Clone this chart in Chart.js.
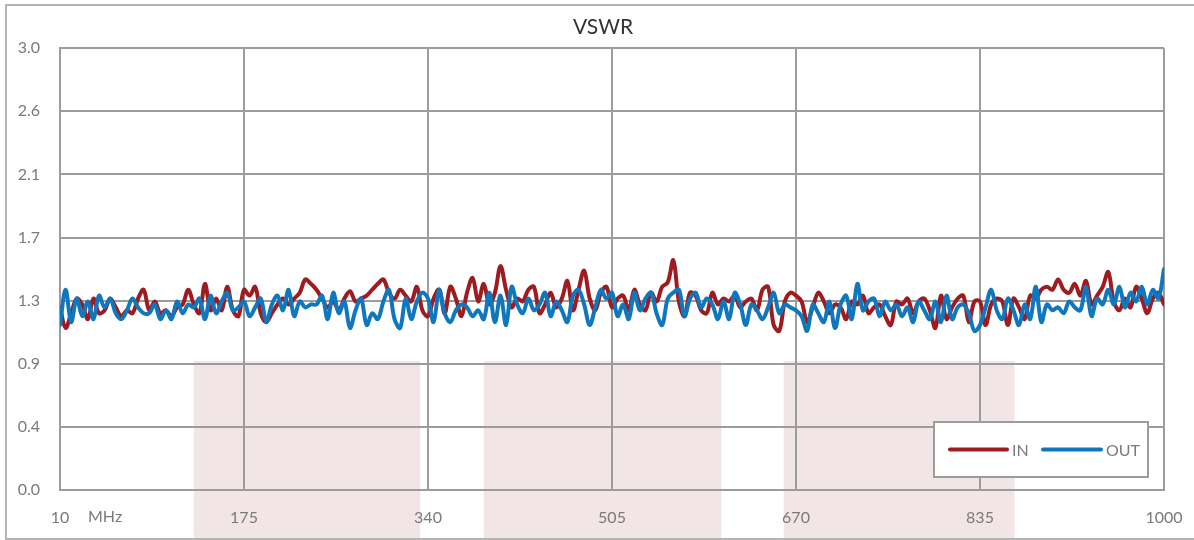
<!DOCTYPE html>
<html>
<head>
<meta charset="utf-8">
<title>VSWR</title>
<script src="https://cdn.jsdelivr.net/npm/chart.js@4.4.0/dist/chart.umd.min.js"></script>
<style>
  body { margin: 0; background: #ffffff; }
  #wrap { width: 1194px; height: 540px; position: relative; }
</style>
</head>
<body>
<div id="wrap"><canvas id="vswrChart" width="1194" height="540"></canvas></div>
<script>
//Data
const startFreq = 10; //first sample, MHz
const stepFreq = 5; //sample spacing, MHz
const xTicks = [10, 175, 340, 505, 670, 835, 1000]; //x tick labels (MHz)
const yTickLabels = ['0.0', '0.4', '0.9', '1.3', '1.7', '2.1', '2.6', '3.0']; //y tick labels
const seriesNames = ['IN', 'OUT']; //legend names
const bands = [[130, 333], [390, 603], [659, 866]]; //shaded frequency bands, MHz

const inValues = [ //VSWR of input port
    1.24,1.10,1.20,1.30,1.26,1.16,1.30,1.20,1.22,1.30, 1.24,1.18,1.22,1.20,1.30,1.36,1.22,1.28,1.20,1.22,
    1.18,1.24,1.26,1.36,1.26,1.20,1.40,1.22,1.30,1.22, 1.38,1.22,1.18,
    1.36,1.32,1.38,1.20,1.14,1.20,1.26,1.30,1.26,1.30, 1.34,1.43,1.40,1.36,1.30,1.24,1.28,1.22,1.30,1.35,
    1.28,1.30,1.32,1.36,1.40,1.43,1.34,1.30,1.36,1.32, 1.28,1.38,1.22,
    1.18,1.30,1.36,1.20,1.38,1.30,1.18,1.34,1.44,1.28, 1.40,1.26,1.34,1.52,1.36,1.24,1.30,1.28,1.36,1.38,
    1.20,1.26,1.34,1.24,1.30,1.42,1.22,1.36,1.49,1.30, 1.22,1.34,1.38,
    1.24,1.30,1.32,1.22,1.36,1.26,1.22,1.34,1.28,1.38, 1.41,1.56,1.28,1.18,1.34,1.32,1.22,1.20,1.34,1.26,
    1.30,1.28,1.32,1.24,1.28,1.30,1.22,1.36,1.38,1.12, 1.08,1.28,1.34,
    1.32,1.28,1.14,1.24,1.34,1.28,1.20,1.26,1.24,1.16, 1.28,1.26,1.32,1.20,1.24,1.26,1.18,1.12,1.28,1.26,
    1.30,1.20,1.28,1.30,1.22,1.10,1.32,1.16,1.24,1.30, 1.32,1.14,1.28,
    1.28,1.12,1.26,1.30,1.28,1.12,1.30,1.24,1.16,1.32, 1.30,1.36,1.38,1.36,1.43,1.36,1.34,1.40,1.32,1.42,
    1.26,1.32,1.38,1.48,1.28,1.22,1.30,1.24,1.38,1.30, 1.20,1.30,1.34,1.26
];

const outValues = [ //VSWR of output port
    1.12,1.36,1.14,1.30,1.18,1.28,1.16,1.32,1.24,1.30, 1.20,1.16,1.22,1.30,1.24,1.20,1.20,1.26,1.16,1.22,
    1.16,1.28,1.20,1.26,1.24,1.30,1.16,1.32,1.20,1.28, 1.34,1.22,1.24,
    1.28,1.18,1.24,1.30,1.14,1.26,1.32,1.22,1.36,1.18, 1.28,1.24,1.26,1.26,1.32,1.16,1.34,1.20,1.28,1.10,
    1.22,1.30,1.12,1.20,1.16,1.28,1.36,1.16,1.10,1.30, 1.16,1.28,1.34,
    1.30,1.14,1.36,1.20,1.14,1.22,1.26,1.24,1.18,1.22, 1.16,1.34,1.14,1.32,1.12,1.38,1.26,1.20,1.30,1.22,
    1.26,1.34,1.18,1.28,1.22,1.14,1.32,1.36,1.26,1.12, 1.24,1.36,1.30,
    1.34,1.18,1.26,1.16,1.34,1.22,1.30,1.34,1.20,1.12, 1.30,1.34,1.36,1.18,1.30,1.34,1.24,1.30,1.26,1.16,
    1.28,1.16,1.34,1.26,1.12,1.26,1.22,1.16,1.24,1.34, 1.20,1.26,1.24,
    1.22,1.18,1.08,1.26,1.20,1.14,1.28,1.10,1.26,1.32, 1.16,1.40,1.22,1.28,1.30,1.18,1.28,1.22,1.26,1.18,
    1.24,1.14,1.28,1.22,1.16,1.28,1.14,1.32,1.16,1.24, 1.26,1.20,1.08,
    1.12,1.24,1.36,1.22,1.16,1.30,1.22,1.12,1.26,1.16, 1.38,1.14,1.26,1.22,1.24,1.20,1.28,1.24,1.22,1.38,
    1.18,1.30,1.26,1.36,1.26,1.38,1.24,1.34,1.28,1.38, 1.26,1.36,1.30,1.50
];

const freqs = inValues.map((v, i) => startFreq + i * stepFreq); //sample frequencies

//Styles
const gridColor = '#9c9c9c';
const labelColor = '#7a7a7a';
const fontFamily = 'Lato, "Open Sans", sans-serif';
const inColor = '#9e1b20';
const outColor = '#0f77bd';

const backgroundPlugin = { //frame and shaded bands, drawn under the grid
    id: 'background',
    beforeDraw(chart) {
        const ctx = chart.ctx;
        const xs = chart.scales.x;
        const ys = chart.scales.y;
        ctx.save();
        ctx.fillStyle = '#ffffff';
        ctx.fillRect(0, 0, chart.width, chart.height);
        ctx.fillStyle = '#f2e5e6'; //pink bands
        const top = ys.getPixelForValue(0.875);
        bands.forEach(b => {
            const x1 = xs.getPixelForValue(b[0]);
            const x2 = xs.getPixelForValue(b[1]);
            ctx.fillRect(x1, top, x2 - x1, chart.height - top);
        });
        ctx.strokeStyle = '#b4b4b4'; //outer frame
        ctx.lineWidth = 2;
        ctx.strokeRect(6, 5, chart.width + 10, chart.height - 6);
        ctx.restore();
    }
};

const extrasPlugin = { //unit label and legend box
    id: 'extras',
    afterDraw(chart) {
        const ctx = chart.ctx;
        const area = chart.chartArea;
        ctx.save();
        ctx.font = '16px ' + fontFamily;
        ctx.fillStyle = labelColor;
        ctx.textBaseline = 'middle';
        ctx.textAlign = 'left';
        ctx.fillText('MHz', 88, area.bottom + 27); //unit next to first tick

        //legend
        const bx = 934, by = 422, bw = 214, bh = 55;
        ctx.fillStyle = '#ffffff';
        ctx.fillRect(bx, by, bw, bh);
        ctx.strokeStyle = gridColor;
        ctx.lineWidth = 2;
        ctx.strokeRect(bx, by, bw, bh);
        const cy = by + bh / 2;
        const items = [[950, 1007, 1012], [1043, 1101, 1106]]; //line start, line end, text x
        chart.data.datasets.forEach((ds, i) => {
            const it = items[i];
            ctx.strokeStyle = ds.borderColor;
            ctx.lineWidth = 4;
            ctx.lineCap = 'round';
            ctx.beginPath();
            ctx.moveTo(it[0], cy);
            ctx.lineTo(it[1], cy);
            ctx.stroke();
            ctx.fillStyle = labelColor;
            ctx.fillText(ds.label, it[2], cy + 1);
        });
        ctx.restore();
    }
};

function initChart() { //create the chart
    const ctx = document.getElementById('vswrChart').getContext('2d');
    return new Chart(ctx, {
        type: 'line',
        data: {
            labels: freqs,
            datasets: [
                { label: seriesNames[0], data: inValues, borderColor: inColor, borderWidth: 4, order: 1 },
                { label: seriesNames[1], data: outValues, borderColor: outColor, borderWidth: 4, order: 0 }
            ]
        },
        options: {
            responsive: false,
            animation: false,
            devicePixelRatio: 1,
            layout: { padding: { left: 12, right: 0, top: 0, bottom: 0 } },
            elements: {
                point: { radius: 0 },
                line: { tension: 0.35, fill: false, borderJoinStyle: 'round', borderCapStyle: 'round' }
            },
            plugins: {
                legend: { display: false },
                tooltip: { enabled: false },
                title: {
                    display: true,
                    text: 'VSWR',
                    color: '#333333',
                    font: { family: fontFamily, size: 21, weight: 'normal', lineHeight: 1.2 },
                    padding: { top: 15, bottom: 8 }
                }
            },
            scales: {
                x: {
                    type: 'linear',
                    min: xTicks[0],
                    max: xTicks[xTicks.length - 1],
                    afterBuildTicks: (scale) => { scale.ticks = xTicks.map(v => ({ value: v })); },
                    afterFit: (scale) => { scale.height = 50; scale.paddingRight = 30; },
                    grid: { color: gridColor, lineWidth: 2, drawTicks: false },
                    border: { color: gridColor, width: 2 },
                    ticks: {
                        color: labelColor,
                        padding: 18,
                        maxRotation: 0,
                        autoSkip: false,
                        font: { family: fontFamily, size: 16 },
                        callback: (v) => String(v)
                    }
                },
                y: {
                    min: 0,
                    max: 3,
                    afterBuildTicks: (scale) => { scale.ticks = yTickLabels.map((t, i) => ({ value: i * 3 / 7 })); },
                    afterFit: (scale) => { scale.width = 48; },
                    grid: { color: gridColor, lineWidth: 2, drawTicks: false },
                    border: { color: gridColor, width: 2 },
                    ticks: {
                        color: labelColor,
                        padding: 20,
                        autoSkip: false,
                        font: { family: fontFamily, size: 16 },
                        callback: (v, i) => yTickLabels[i]
                    }
                }
            }
        },
        plugins: [backgroundPlugin, extrasPlugin]
    });
}

window.addEventListener('DOMContentLoaded', () => { //on page load
    initChart();
});
</script>
</body>
</html>
